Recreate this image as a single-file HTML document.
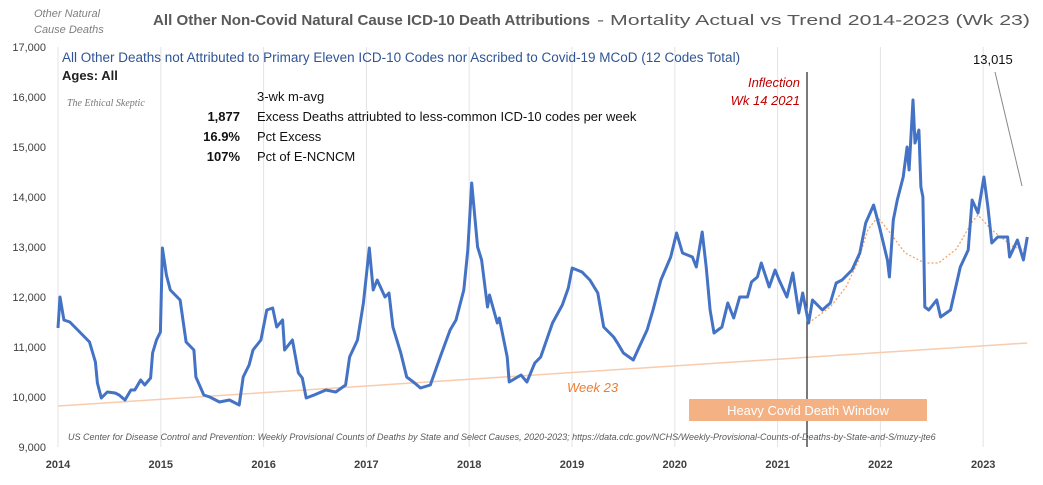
<!DOCTYPE html>
<html><head><meta charset="utf-8"><style>
body{margin:0;background:#fff;}
svg text{font-family:"Liberation Sans",sans-serif;}
</style></head><body>
<svg id="chart" width="1043" height="480" xmlns="http://www.w3.org/2000/svg">
<rect x="0" y="0" width="1043" height="480" fill="#fff"/>
<g id="grid"></g>
<g id="yticks"></g>
<g id="xticks"></g>
<path id="baseline" fill="none" stroke="#f8cbad" stroke-width="1.5"/>
<line x1="807" y1="72" x2="807" y2="447" stroke="#222" stroke-width="1.2"/>
<rect x="689" y="399" width="238" height="22" fill="#f4b183"/>
<text x="808" y="415" font-size="13" fill="#fff" text-anchor="middle">Heavy Covid Death Window</text>
<path id="dotted" fill="none" stroke="#f4a46a" stroke-width="1.3" stroke-dasharray="2,2"/>
<path id="series" fill="none" stroke="#4472c4" stroke-width="3" stroke-linejoin="round"/>
<text x="34" y="17" font-size="11" font-style="italic" fill="#808080">Other Natural</text>
<text x="34" y="33" font-size="11" font-style="italic" fill="#808080">Cause Deaths</text>
<text x="153" y="25" font-size="15" font-weight="bold" fill="#595959" textLength="437" lengthAdjust="spacingAndGlyphs">All Other Non-Covid Natural Cause ICD-10 Death Attributions</text>
<text x="597" y="25" font-size="15" fill="#595959" textLength="433" lengthAdjust="spacingAndGlyphs">- Mortality Actual vs Trend  2014-2023 (Wk 23)</text>
<text x="62" y="62" font-size="13.5" fill="#2f5597">All Other Deaths not Attributed to Primary Eleven ICD-10 Codes nor Ascribed to Covid-19 MCoD (12 Codes Total)</text>
<text x="62" y="80" font-size="13" font-weight="bold" fill="#222">Ages: All</text>
<text x="67" y="106" font-size="10" font-style="italic" fill="#777" style="font-family:'Liberation Serif',serif">The Ethical Skeptic</text>
<text x="257" y="101" font-size="13" fill="#111">3-wk m-avg</text>
<text x="240" y="121" font-size="13" font-weight="bold" text-anchor="end" fill="#111">1,877</text>
<text x="257" y="121" font-size="13" fill="#111">Excess Deaths attriubted to less-common ICD-10 codes per week</text>
<text x="240" y="141" font-size="13" font-weight="bold" text-anchor="end" fill="#111">16.9%</text>
<text x="257" y="141" font-size="13" fill="#111">Pct Excess</text>
<text x="240" y="161" font-size="13" font-weight="bold" text-anchor="end" fill="#111">107%</text>
<text x="257" y="161" font-size="13" fill="#111">Pct of E-NCNCM</text>
<text x="800" y="87" font-size="13" font-style="italic" fill="#c00000" text-anchor="end">Inflection</text>
<text x="800" y="105" font-size="13" font-style="italic" fill="#c00000" text-anchor="end">Wk 14 2021</text>
<text x="973" y="64" font-size="13" fill="#111">13,015</text>
<line x1="995" y1="72" x2="1022" y2="186" stroke="#888" stroke-width="1"/>
<text x="567" y="392" font-size="13" font-style="italic" fill="#ed7d31">Week 23</text>
<text x="68" y="440" font-size="9" font-style="italic" fill="#595959">US Center for Disease Control and Prevention: Weekly Provisional Counts of Deaths by State and Select Causes, 2020-2023; https://data.cdc.gov/NCHS/Weekly-Provisional-Counts-of-Deaths-by-State-and-S/muzy-jte6</text>
</svg>
<script>
const weeks=[0,1,3,6,11,16,19,20,22,25,29,31,34,37,39,42,44,47,48,50,52,53,55,57,62,65,69,70,74,77,82,87,92,94,97,99,103,106,109,111,114,115,119,122,124,126,130,136,141,146,148,152,155,158,160,162,166,168,170,174,177,181,184,189,194,199,202,206,208,210,213,215,218,219,223,224,228,229,235,238,242,245,251,256,259,261,266,270,274,277,282,284,287,292,295,299,302,306,311,314,317,322,324,327,329,331,333,337,340,343,346,350,352,355,357,361,364,366,370,373,376,378,381,383,388,392,395,398,403,407,410,414,417,421,422,424,426,429,431,432,434,435,437,438,439,440,442,446,448,453,455,458,462,464,467,470,472,474,477,482,483,487,490,492];
const deaths=[11380,12000,11540,11500,11300,11100,10700,10280,9980,10100,10080,10040,9940,10140,10140,10340,10240,10380,10880,11140,11300,12980,12440,12140,11940,11100,10940,10400,10040,10000,9900,9940,9840,10400,10640,10940,11140,11740,11780,11400,11540,10940,11140,10480,10380,9980,10040,10140,10100,10240,10800,11140,11880,12980,12140,12340,12000,12080,11400,10880,10400,10280,10180,10240,10800,11340,11540,12140,12940,14280,13000,12740,11800,12040,11480,11580,10800,10300,10440,10300,10680,10800,11480,11840,12180,12580,12500,12340,12080,11400,11200,11080,10880,10740,11000,11340,11740,12340,12800,13280,12880,12800,12600,13300,12600,11740,11280,11400,11880,11580,12000,12000,12300,12400,12680,12200,12540,12340,12000,12480,11680,12080,11480,11940,11740,11880,12280,12340,12540,12880,13480,13840,13400,12740,12400,13540,13940,14400,15000,14540,15940,15080,15340,14200,14000,11800,11740,11940,11600,11740,12080,12600,12940,13940,13680,14400,13800,13080,13200,13200,12800,13140,12740,13200];
const trendWeeks=[381,392,400,406,411,416,422,430,440,447,456,464,467,474,485,492];
const trendValues=[11480,11800,12200,12700,13340,13600,13300,12880,12680,12680,12960,13500,13640,13340,13000,12940];
const baselineWeeks=[0,492];
const baselineValues=[9820,11080];
const yTicks=[9000,10000,11000,12000,13000,14000,15000,16000,17000];
const yearLabels=["2014","2015","2016","2017","2018","2019","2020","2021","2022","2023"];
const X0=58,PXW=102.8/52.18,Y0=447;
const xs=w=>X0+w*PXW, ys=v=>Y0-(v-9000)*0.05;
const ns="http://www.w3.org/2000/svg";
function mk(t,a,p){const e=document.createElementNS(ns,t);for(const k in a)e.setAttribute(k,a[k]);p.appendChild(e);return e;}
const grid=document.getElementById('grid'),yt=document.getElementById('yticks'),xt=document.getElementById('xticks');
yearLabels.forEach((l,i)=>{const x=X0+i*102.8;
const g=mk('line',{x1:x,y1:47,x2:x,y2:Y0,stroke:'#e3e3e3','stroke-width':1},grid);


const t=mk('text',{x:x,y:468,'font-size':11,'font-weight':'bold','text-anchor':'middle',fill:'#404040'},xt);t.textContent=l;

});
yTicks.forEach(v=>{const t=mk('text',{x:46,y:ys(v)+4,'font-size':11,'text-anchor':'end',fill:'#404040'},yt);t.textContent=v.toLocaleString('en-US');

});
const path=(W,V)=>W.map((w,i)=>(i?'L':'M')+xs(w).toFixed(1)+','+ys(V[i]).toFixed(1)).join('');
document.getElementById('series').setAttribute('d',path(weeks,deaths));
document.getElementById('dotted').setAttribute('d',path(trendWeeks,trendValues));
document.getElementById('baseline').setAttribute('d',path(baselineWeeks,baselineValues));
</script>
</body></html>
